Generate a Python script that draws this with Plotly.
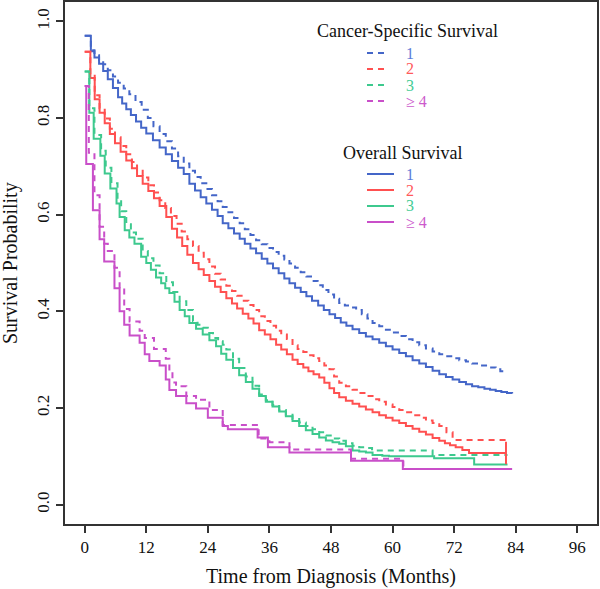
import plotly.graph_objects as go

# ---------------- data ----------------
x_ticks = [0, 12, 24, 36, 48, 60, 72, 84, 96]
y_ticks = [0.0, 0.2, 0.4, 0.6, 0.8, 1.0]
y_tick_labels = ["0.0", "0.2", "0.4", "0.6", "0.8", "1.0"]
groups = ["1", "2", "3", "\u2265 4"]

# Overall survival, group 1
os1_t = [0, 1.2, 1.9, 2.8, 3.6, 4.5, 5.5, 6.5, 7.3, 8.1, 9.0, 10.0, 11.0, 12.0, 13.3, 14.6,
         15.8, 17.0, 18.2, 19.3, 20.4, 21.5, 22.6, 23.7, 24.8, 25.9, 26.9, 28.0, 29.1, 30.2,
         31.2, 32.3, 33.4, 34.5, 35.6, 36.7, 37.8, 38.9, 39.9, 41.0, 42.1, 43.2, 44.3, 45.5,
         46.6, 47.7, 48.8, 49.9, 51.0, 52.2, 53.5, 54.8, 56.1, 57.4, 58.7, 60.0, 61.3, 62.6,
         63.9, 65.2, 66.5, 67.8, 69.1, 70.4, 71.7, 73.0, 74.3, 75.5, 76.7, 77.9, 79.0, 80.1,
         81.2, 82.3, 83.3]
os1_s = [0.970, 0.938, 0.925, 0.912, 0.897, 0.880, 0.862, 0.843, 0.830, 0.818, 0.806, 0.793,
         0.780, 0.768, 0.754, 0.739, 0.725, 0.711, 0.697, 0.684, 0.664, 0.650, 0.636, 0.623,
         0.610, 0.597, 0.582, 0.572, 0.561, 0.550, 0.540, 0.530, 0.520, 0.509, 0.499, 0.489,
         0.479, 0.468, 0.458, 0.449, 0.440, 0.431, 0.422, 0.412, 0.403, 0.394, 0.386, 0.377,
         0.370, 0.363, 0.355, 0.348, 0.342, 0.335, 0.328, 0.321, 0.314, 0.307, 0.299, 0.292,
         0.285, 0.277, 0.270, 0.264, 0.259, 0.254, 0.249, 0.245, 0.243, 0.240, 0.238, 0.235,
         0.233, 0.231, 0.230]

# Cancer-specific survival, group 1
css1_t = [0, 1.2, 1.9, 2.8, 3.6, 4.5, 5.5, 6.5, 7.6, 8.7, 9.9, 11.1, 12.3, 13.4, 14.6, 15.8,
          17.0, 18.2, 19.3, 20.4, 21.5, 22.6, 23.7, 24.8, 25.9, 26.9, 28.0, 29.1, 30.2, 31.2,
          32.3, 33.4, 34.5, 35.6, 36.7, 37.8, 38.9, 39.9, 41.0, 42.1, 43.2, 44.3, 45.4, 46.4,
          47.5, 48.6, 49.6, 50.7, 51.8, 52.9, 54.0, 55.1, 56.1, 57.4, 58.7, 60.0, 61.3, 62.6,
          63.9, 65.2, 66.5, 67.8, 69.1, 70.4, 71.7, 73.0, 74.3, 75.5, 77.0, 78.5, 80.1, 81.0,
          81.7]
css1_s = [0.970, 0.940, 0.930, 0.920, 0.911, 0.899, 0.886, 0.873, 0.861, 0.849, 0.833, 0.817,
          0.800, 0.783, 0.767, 0.752, 0.737, 0.721, 0.706, 0.691, 0.678, 0.665, 0.653, 0.640,
          0.628, 0.616, 0.605, 0.593, 0.582, 0.570, 0.558, 0.547, 0.539, 0.531, 0.523, 0.515,
          0.507, 0.499, 0.490, 0.481, 0.472, 0.463, 0.454, 0.444, 0.435, 0.426, 0.417, 0.412,
          0.408, 0.403, 0.394, 0.385, 0.376, 0.369, 0.362, 0.356, 0.349, 0.342, 0.336, 0.330,
          0.323, 0.317, 0.311, 0.307, 0.303, 0.299, 0.296, 0.292, 0.288, 0.284, 0.280, 0.276,
          0.273]

# Overall survival, group 2
os2_t = [0, 1.1, 1.95, 2.9, 3.9, 4.9, 5.9, 7.0, 8.1, 9.2, 10.2, 11.3, 12.4, 13.5, 14.6, 15.9,
         17.0, 18.0, 19.0, 20.0, 21.1, 22.2, 23.2, 24.3, 25.4, 26.5, 27.6, 28.7, 29.7, 30.8,
         31.9, 32.9, 34.0, 35.1, 36.2, 37.3, 38.3, 39.4, 40.5, 41.5, 42.6, 43.6, 44.6, 45.7,
         46.7, 47.7, 48.6, 49.6, 50.9, 52.2, 53.5, 54.8, 56.1, 57.4, 58.7, 60.0, 61.3, 62.6,
         63.9, 65.2, 66.5, 67.8, 69.1, 70.2, 71.2, 72.3, 73.6, 74.9, 82.1]
os2_s = [0.937, 0.883, 0.839, 0.811, 0.789, 0.767, 0.748, 0.730, 0.712, 0.696, 0.680, 0.664,
         0.649, 0.634, 0.618, 0.595, 0.571, 0.553, 0.535, 0.517, 0.500, 0.487, 0.475, 0.463,
         0.451, 0.440, 0.427, 0.416, 0.406, 0.395, 0.385, 0.375, 0.361, 0.352, 0.342, 0.331,
         0.321, 0.311, 0.300, 0.291, 0.284, 0.276, 0.270, 0.263, 0.252, 0.241, 0.231, 0.222,
         0.215, 0.209, 0.203, 0.197, 0.191, 0.185, 0.180, 0.174, 0.169, 0.163, 0.157, 0.151,
         0.145, 0.138, 0.132, 0.127, 0.123, 0.119, 0.113, 0.107, 0.107]
os2_censor_t = [82.1]
os2_censor_s = [0.107]

# Cancer-specific survival, group 2
css2_t = [0, 1.1, 1.95, 2.9, 3.9, 4.9, 5.9, 7.0, 8.1, 9.2, 10.2, 11.3, 12.4, 13.5, 14.6, 15.7,
          16.8, 17.9, 18.9, 20.0, 21.1, 22.2, 23.2, 24.3, 25.4, 26.5, 27.6, 28.7, 29.7, 30.8,
          31.9, 32.9, 34.0, 35.1, 36.2, 37.3, 38.3, 39.4, 40.5, 41.5, 42.6, 43.6, 44.6, 45.7,
          46.7, 47.7, 48.6, 49.6, 50.9, 52.2, 53.5, 54.8, 56.1, 57.4, 58.7, 60.0, 61.3, 62.6,
          63.9, 65.2, 66.5, 67.8, 69.1, 70.5, 71.7, 82.1]
css2_s = [0.937, 0.890, 0.847, 0.820, 0.799, 0.778, 0.760, 0.742, 0.725, 0.709, 0.693, 0.677,
          0.661, 0.646, 0.630, 0.614, 0.597, 0.581, 0.565, 0.549, 0.535, 0.521, 0.508, 0.493,
          0.478, 0.466, 0.453, 0.442, 0.432, 0.422, 0.413, 0.403, 0.390, 0.380, 0.370, 0.360,
          0.352, 0.343, 0.330, 0.322, 0.316, 0.309, 0.303, 0.297, 0.288, 0.280, 0.265, 0.252,
          0.245, 0.238, 0.231, 0.225, 0.218, 0.213, 0.207, 0.202, 0.196, 0.191, 0.185, 0.180,
          0.174, 0.169, 0.163, 0.150, 0.134, 0.134]

# Overall survival, group 3
os3_t = [0, 0.9, 1.75, 3.05, 3.9, 5.0, 6.2, 6.8, 7.8, 8.7, 9.7, 11.0, 12.0, 12.9, 13.9, 14.9,
         15.7, 16.5, 17.5, 18.5, 19.5, 20.4, 21.7, 23.0, 24.3, 25.6, 26.6, 27.6, 28.9, 30.1,
         31.4, 32.7, 34.0, 35.3, 36.6, 37.9, 39.2, 40.5, 41.8, 43.1, 44.4, 45.7, 47.0, 48.3,
         49.6, 50.9, 52.2, 53.5, 54.8, 56.1, 58.0, 59.3, 68.1, 75.9, 82.4]
os3_s = [0.896, 0.811, 0.757, 0.722, 0.685, 0.654, 0.623, 0.595, 0.568, 0.553, 0.540, 0.513,
         0.500, 0.486, 0.470, 0.458, 0.448, 0.438, 0.420, 0.403, 0.390, 0.376, 0.364, 0.352,
         0.340, 0.328, 0.312, 0.300, 0.283, 0.268, 0.254, 0.240, 0.225, 0.213, 0.203, 0.193,
         0.183, 0.173, 0.163, 0.154, 0.146, 0.139, 0.133, 0.129, 0.126, 0.121, 0.112, 0.110,
         0.108, 0.103, 0.101, 0.100, 0.096, 0.083, 0.083]

# Cancer-specific survival, group 3
css3_t = [0, 0.9, 1.9, 3.2, 4.1, 5.2, 6.4, 7.1, 8.1, 9.0, 10.0, 11.3, 12.3, 13.4, 14.6, 15.9,
          17.2, 18.5, 19.8, 21.1, 22.0, 23.0, 24.0, 25.0, 26.0, 26.9, 27.6, 28.9, 30.1, 31.4,
          32.7, 34.0, 35.3, 36.6, 37.9, 39.2, 40.5, 41.8, 43.1, 44.4, 45.7, 47.0, 48.3, 49.6,
          50.9, 52.2, 53.5, 54.8, 56.0, 67.8, 82.4]
css3_s = [0.896, 0.820, 0.765, 0.732, 0.697, 0.665, 0.635, 0.607, 0.580, 0.563, 0.550, 0.525,
          0.510, 0.495, 0.479, 0.460, 0.440, 0.421, 0.403, 0.380, 0.372, 0.366, 0.355, 0.345,
          0.338, 0.331, 0.321, 0.302, 0.283, 0.265, 0.246, 0.228, 0.216, 0.206, 0.196, 0.186,
          0.177, 0.170, 0.163, 0.156, 0.150, 0.143, 0.137, 0.132, 0.127, 0.122, 0.119, 0.117,
          0.112, 0.103, 0.103]

# Overall survival, group >=4
os4_t = [0, 0.3, 1.6, 2.9, 3.8, 5.8, 6.8, 7.7, 8.75, 10.7, 11.7, 12.6, 14.6, 15.8, 16.5, 17.8,
         19.8, 21.7, 24.0, 26.9, 27.9, 33.7, 35.7, 39.9, 51.9, 62.0, 83.3]
os4_s = [0.866, 0.705, 0.609, 0.549, 0.503, 0.448, 0.400, 0.372, 0.350, 0.335, 0.311, 0.297,
         0.288, 0.259, 0.237, 0.225, 0.210, 0.199, 0.180, 0.163, 0.156, 0.139, 0.119, 0.108,
         0.091, 0.074, 0.074]

# Cancer-specific survival, group >=4
css4_t = [0, 0.8, 1.9, 2.9, 3.8, 4.5, 5.8, 6.8, 7.7, 8.75, 10.7, 11.7, 13.5, 15.8, 16.5, 17.1,
          17.8, 19.8, 21.7, 24.3, 26.9, 33.9, 36.0, 39.9, 51.9, 62.1, 83.3]
css4_s = [0.866, 0.728, 0.640, 0.575, 0.540, 0.525, 0.490, 0.445, 0.405, 0.379, 0.360, 0.345,
          0.322, 0.302, 0.275, 0.253, 0.245, 0.225, 0.217, 0.196, 0.165, 0.137, 0.129, 0.114,
          0.095, 0.074, 0.074]

# ---------------- styling ----------------
colors = ["#4466C8", "#FF5050", "#3DC98E", "#C94FC9"]
label_colors = ["#5A7AD8", "#FF5A5A", "#45CC95", "#CC5ACC"]
FONT = "Liberation Serif"
DASH = "6px,5px"
LW = 2

fig = go.Figure()

os_series = [(os1_t, os1_s), (os2_t, os2_s), (os3_t, os3_s), (os4_t, os4_s)]
css_series = [(css1_t, css1_s), (css2_t, css2_s), (css3_t, css3_s), (css4_t, css4_s)]

for i, (t, s) in enumerate(os_series):
    fig.add_trace(go.Scatter(x=t, y=s, mode="lines", line_shape="hv",
                             line=dict(color=colors[i], width=LW),
                             name="OS " + groups[i], showlegend=False, hoverinfo="skip"))
for i, (t, s) in enumerate(css_series):
    fig.add_trace(go.Scatter(x=t, y=s, mode="lines", line_shape="hv",
                             line=dict(color=colors[i], width=LW, dash=DASH),
                             name="CSS " + groups[i], showlegend=False, hoverinfo="skip"))

fig.add_trace(go.Scatter(x=os2_censor_t, y=os2_censor_s, mode="markers",
                         marker=dict(symbol="line-ns", size=16,
                                     line=dict(color=colors[1], width=LW)),
                         showlegend=False, hoverinfo="skip"))

# ---------------- layout ----------------
L, R, T, B = 65, 3, 2, 65
W, H = 600, 589
PW, PH = W - L - R, H - T - B


def px(xp):
    return (xp - L) / PW


def py(yp):
    return (H - B - yp) / PH


annotations = []
shapes = []

# legend: Cancer-Specific Survival (dashed)
annotations.append(dict(text="Cancer-Specific Survival", x=px(407), y=py(31), xref="paper",
                        yref="paper", showarrow=False, xanchor="center", yanchor="middle",
                        font=dict(family=FONT, size=18, color="#111")))
css_rows = [53, 69, 85, 101]
os_rows = [174, 190, 206, 222]
for i in range(4):
    shapes.append(dict(type="line", xref="paper", yref="paper",
                       x0=px(367), x1=px(385), y0=py(css_rows[i]), y1=py(css_rows[i]),
                       line=dict(color=colors[i], width=LW, dash=DASH)))
    annotations.append(dict(text=groups[i], x=px(404), y=py(css_rows[i]), xref="paper",
                            yref="paper", showarrow=False, xanchor="left", yanchor="middle",
                            font=dict(family=FONT, size=16, color=label_colors[i])))
annotations.append(dict(text="Overall Survival", x=px(402), y=py(153), xref="paper",
                        yref="paper", showarrow=False, xanchor="center", yanchor="middle",
                        font=dict(family=FONT, size=18, color="#111")))
for i in range(4):
    shapes.append(dict(type="line", xref="paper", yref="paper",
                       x0=px(367), x1=px(394), y0=py(os_rows[i]), y1=py(os_rows[i]),
                       line=dict(color=colors[i], width=LW)))
    annotations.append(dict(text=groups[i], x=px(404), y=py(os_rows[i]), xref="paper",
                            yref="paper", showarrow=False, xanchor="left", yanchor="middle",
                            font=dict(family=FONT, size=16, color=label_colors[i])))

# axis titles
annotations.append(dict(text="Time from Diagnosis (Months)", x=0.5, y=py(576), xref="paper",
                        yref="paper", showarrow=False, xanchor="center", yanchor="middle",
                        font=dict(family=FONT, size=20, color="#111")))
annotations.append(dict(text="Survival Probability", x=px(10), y=0.5, xref="paper",
                        yref="paper", showarrow=False, xanchor="center", yanchor="middle",
                        textangle=-90, font=dict(family=FONT, size=20, color="#111")))

fig.update_layout(
    width=W, height=H,
    margin=dict(l=L, r=R, t=T, b=B, autoexpand=False),
    paper_bgcolor="white", plot_bgcolor="white",
    showlegend=False,
    annotations=annotations, shapes=shapes,
    font=dict(family=FONT, size=17, color="#111"),
)
fig.update_xaxes(range=[-3.84, 99.84], tickvals=x_ticks, ticks="outside", ticklen=7,
                 tickwidth=1.5, tickcolor="#333", showgrid=False, zeroline=False,
                 showline=True, mirror=True, linecolor="#333", linewidth=1.5,
                 tickfont=dict(family=FONT, size=17, color="#111"), automargin=False)
fig.update_yaxes(range=[-0.04, 1.04], tickvals=y_ticks, ticktext=y_tick_labels,
                 ticks="outside", ticklen=7, tickwidth=1.5, tickcolor="#333", tickangle=-90,
                 showgrid=False, zeroline=False, showline=True, mirror=True, linecolor="#333",
                 linewidth=1.5, tickfont=dict(family=FONT, size=17, color="#111"),
                 automargin=False)

fig.write_html("out.html", config={"displayModeBar": False},
               post_script="document.body.style.margin='0';document.body.style.overflow='hidden';")
